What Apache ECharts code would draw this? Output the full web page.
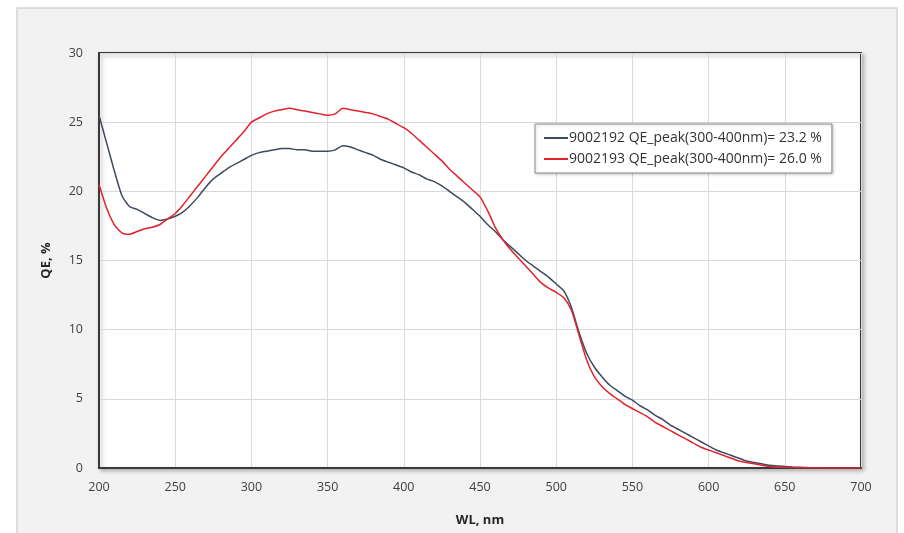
<!DOCTYPE html>
<html>
<head>
<meta charset="utf-8">
<script src="https://cdn.jsdelivr.net/npm/echarts@6/dist/echarts.min.js"></script>
<style>
html,body{margin:0;padding:0;background:#fff;}
#c{width:904px;height:533px;}
</style>
</head>
<body>
<div id="c"></div>
<script>
const wavelengths = [200,205,210,215,220,225,230,235,240,245,250,255,260,265,270,275,280,285,290,295,300,305,310,315,320,325,330,335,340,345,350,355,360,365,370,375,380,385,390,395,400,405,410,415,420,425,430,435,440,445,450,455,460,465,470,475,480,485,490,495,500,505,510,515,520,525,530,535,540,545,550,555,560,565,570,575,580,585,590,595,600,605,610,615,620,625,630,635,640,645,650,655,660,665,670,675,680,685,690,695,700];

const qe9002192 = [25.5,23.5,21.5,19.7,18.9,18.7,18.4,18.1,17.9,18.0,18.2,18.5,19.0,19.6,20.3,20.9,21.3,21.7,22.0,22.3,22.6,22.8,22.9,23.0,23.1,23.1,23.0,23.0,22.9,22.9,22.9,23.0,23.3,23.2,23.0,22.8,22.6,22.3,22.1,21.9,21.7,21.4,21.2,20.9,20.7,20.4,20.0,19.6,19.2,18.7,18.2,17.6,17.1,16.5,16.0,15.5,15.0,14.6,14.2,13.8,13.3,12.8,11.6,9.8,8.3,7.3,6.6,6.0,5.6,5.2,4.9,4.5,4.2,3.8,3.5,3.1,2.8,2.5,2.2,1.9,1.6,1.3,1.1,0.9,0.7,0.5,0.4,0.3,0.2,0.15,0.1,0.07,0.05,0.03,0.02,0.01,0,0,0,0,0];

const qe9002193 = [20.5,18.8,17.6,17.0,16.9,17.1,17.3,17.4,17.6,18.0,18.4,19.0,19.7,20.4,21.1,21.8,22.5,23.1,23.7,24.3,25.0,25.3,25.6,25.8,25.9,26.0,25.9,25.8,25.7,25.6,25.5,25.6,26.0,25.9,25.8,25.7,25.6,25.4,25.2,24.9,24.6,24.2,23.7,23.2,22.7,22.2,21.6,21.1,20.6,20.1,19.6,18.6,17.4,16.5,15.8,15.2,14.6,14.0,13.4,13.0,12.7,12.3,11.4,9.6,7.8,6.6,5.9,5.4,5.0,4.6,4.3,4.0,3.7,3.3,3.0,2.7,2.4,2.1,1.8,1.5,1.3,1.1,0.9,0.7,0.5,0.4,0.3,0.2,0.1,0.07,0.05,0.03,0.02,0.01,0,0,0,0,0,0,0];

const seriesNames = ['9002192 QE_peak(300-400nm)= 23.2 %','9002193 QE_peak(300-400nm)= 26.0 %'];
const xAxisName = 'WL, nm';
const yAxisName = 'QE, %';

const chart = echarts.init(document.getElementById('c'), null, {renderer:'canvas'});
const font = '"Open Sans", "Liberation Sans", sans-serif';

function pairs(ys){ return wavelengths.map((x,i)=>[x, ys[i]]); }

chart.setOption({
  backgroundColor:'#ffffff',
  animation:false,
  graphic:[{
    type:'rect', z:-10, silent:true,
    shape:{x:17, y:8, width:880, height:540},
    style:{fill:'#f2f2f2', stroke:'#d4d4d4', lineWidth:1.5}
  }],
  grid:{
    left:99, right:43, top:53, bottom:65,
    show:true, backgroundColor:'#ffffff', borderColor:'#3a3a3a', borderWidth:2,
    shadowColor:'rgba(0,0,0,0.25)', shadowBlur:4, shadowOffsetX:2, shadowOffsetY:2
  },
  legend:{
    orient:'vertical', left:535, top:124,
    backgroundColor:'#ffffff', borderColor:'#8a8a8a', borderWidth:1,
    padding:[7,10,7,9], itemGap:7, itemWidth:24, itemHeight:2,
    icon:'rect',
    shadowColor:'rgba(0,0,0,0.2)', shadowBlur:3, shadowOffsetX:1, shadowOffsetY:1,
    textStyle:{fontFamily:font, fontSize:14, color:'#333333', padding:[0,0,0,-4]},
    data:seriesNames
  },
  xAxis:{
    type:'value', min:200, max:700, interval:50,
    name:xAxisName, nameLocation:'middle', nameGap:46,
    nameTextStyle:{fontFamily:font, fontSize:13, fontWeight:'bold', color:'#262626'},
    axisLine:{show:true, lineStyle:{color:'#3a3a3a', width:2}},
    axisTick:{show:false},
    axisLabel:{fontFamily:font, fontSize:12.5, color:'#404040', margin:13},
    splitLine:{show:true, lineStyle:{color:'#d9d9d9', width:1}}
  },
  yAxis:{
    type:'value', min:0, max:30, interval:5,
    name:yAxisName, nameLocation:'middle', nameGap:46, nameRotate:90,
    nameTextStyle:{fontFamily:font, fontSize:13, fontWeight:'bold', color:'#262626'},
    axisLine:{show:true, lineStyle:{color:'#3a3a3a', width:2}},
    axisTick:{show:false},
    axisLabel:{fontFamily:font, fontSize:12.5, color:'#404040', margin:16},
    splitLine:{show:true, lineStyle:{color:'#d9d9d9', width:1}}
  },
  series:[
    {name:seriesNames[0], type:'line', data:pairs(qe9002192), showSymbol:false, smooth:0.2,
     lineStyle:{color:'#3c4a5e', width:1.5}, itemStyle:{color:'#3c4a5e'}},
    {name:seriesNames[1], type:'line', data:pairs(qe9002193), showSymbol:false, smooth:0.2,
     lineStyle:{color:'#e0232b', width:1.5}, itemStyle:{color:'#e0232b'}}
  ]
});
</script>
</body>
</html>
